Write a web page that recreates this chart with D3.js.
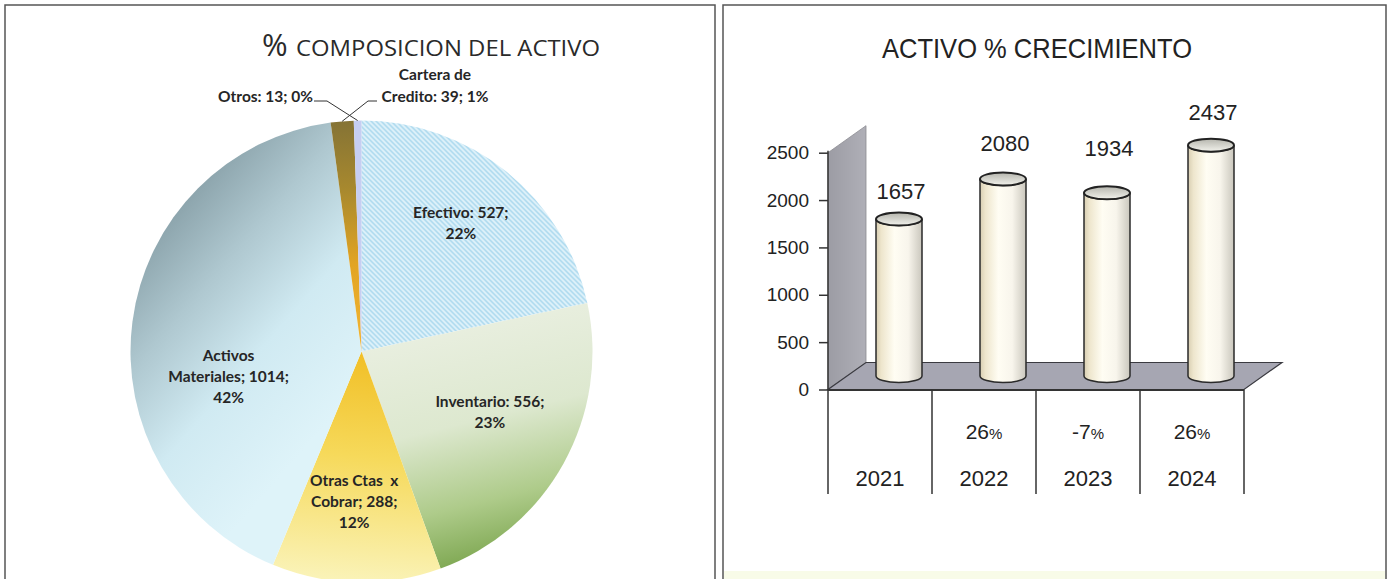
<!DOCTYPE html>
<html><head><meta charset="utf-8">
<script src="https://cdn.jsdelivr.net/npm/d3@7"></script>
<style>body{margin:0;background:#fff;} svg{display:block}</style>
</head><body>
<svg id="c" width="1390" height="579"></svg>
<script>
// ---------- DATA ----------
const pieCategories = ["Efectivo", "Inventario", "Otras Ctas  x Cobrar", "Activos Materiales", "Cartera de Credito", "Otros"];
const pieValues = [527, 556, 288, 1014, 39, 13];
const piePercents = ["22%", "23%", "12%", "42%", "1%", "0%"];

const years = ["2021", "2022", "2023", "2024"];
const activoValues = [1657, 2080, 1934, 2437];
const growthNumbers = ["", "26", "-7", "26"];
const yTickValues = [0, 500, 1000, 1500, 2000, 2500];

// ---------- LAYOUT ----------
const svg = d3.select("#c");
const defs = svg.append("defs");

// panels
svg.append("rect").attr("x", 5).attr("y", 5).attr("width", 710).attr("height", 590)
  .attr("fill", "#fff").attr("stroke", "#555").attr("stroke-width", 1.5);
svg.append("rect").attr("x", 723).attr("y", 5).attr("width", 663).attr("height", 590)
  .attr("fill", "#fff").attr("stroke", "#555").attr("stroke-width", 1.5);
svg.append("rect").attr("x", 724).attr("y", 571).attr("width", 661).attr("height", 8).attr("fill", "#f8fbe8");

// ================= PIE =================
const cx = 361.5, cy = 351.5, R = 231;

const pat = defs.append("pattern").attr("id", "hatch").attr("patternUnits", "userSpaceOnUse")
  .attr("width", 5).attr("height", 5);
pat.append("rect").attr("width", 5).attr("height", 5).attr("fill", "#e4f4fb");
pat.append("path").attr("d", "M-1,-1 L6,6 M-1,4 L1,6 M4,-1 L6,1")
  .attr("stroke", "#9ed3eb").attr("stroke-width", 1.4);

function linGrad(id, x1, y1, x2, y2, stops, ox = 0, oy = 0) {
  const g = defs.append("linearGradient").attr("id", id).attr("gradientUnits", "userSpaceOnUse")
    .attr("x1", x1 - ox).attr("y1", y1 - oy).attr("x2", x2 - ox).attr("y2", y2 - oy);
  stops.forEach(s => g.append("stop").attr("offset", s[0]).attr("stop-color", s[1]));
}
linGrad("gInv", 420, 330, 480, 575, [[0, "#e9efe0"], [0.4, "#dde8cf"], [0.72, "#aecb8a"], [1, "#74a046"]], cx, cy);
linGrad("gOtras", 355, 352, 335, 580, [[0, "#f1bf26"], [0.45, "#f6d95a"], [1, "#faf3b8"]], cx, cy);
linGrad("gAct", 135, 250, 330, 420, [[0, "#8aa2aa"], [0.3, "#afc8d0"], [0.62, "#d0eaf2"], [1, "#def3f9"]], cx, cy);
linGrad("gCart", 0, 121, 0, 352, [[0, "#857335"], [0.3, "#a8892e"], [0.62, "#e2a423"], [1, "#f2b633"]], cx, cy);

const sliceFills = ["url(#hatch)", "url(#gInv)", "url(#gOtras)", "url(#gAct)", "url(#gCart)", "#c6cef2"];

const pie = d3.pie().sort(null).value(d => d).startAngle(0).endAngle(2 * Math.PI);
const arcs = pie(pieValues);
const arc = d3.arc().innerRadius(0).outerRadius(R);

const pieG = svg.append("g").attr("transform", `translate(${cx},${cy})`);
pieG.selectAll("path").data(arcs).join("path")
  .attr("d", arc).attr("fill", (d, i) => sliceFills[i]);

// inside labels
const labelArc = d3.arc().innerRadius(R * 0.65).outerRadius(R * 0.65);
const labelLines = [
  [`${pieCategories[0]}: ${pieValues[0]};`, piePercents[0]],
  [`${pieCategories[1]}: ${pieValues[1]};`, piePercents[1]],
  ["Otras Ctas  x", `Cobrar; ${pieValues[2]};`, piePercents[2]],
  ["Activos", `Materiales; ${pieValues[3]};`, piePercents[3]],
  ["Cartera de", `Credito: ${pieValues[4]}; ${piePercents[4]}`],
  [`${pieCategories[5]}: ${pieValues[5]}; ${piePercents[5]}`]
];
const labelNudge = [[5, -11], [-3, -12], [-4, 0], [16, 45]];
const lineH = 21;
const lblFont = "Lato, 'Open Sans', sans-serif";
const lblSize = 15.5;
arcs.slice(0, 4).forEach((d, i) => {
  const c = labelArc.centroid(d);
  const x = cx + c[0] + labelNudge[i][0];
  const y = cy + c[1] + labelNudge[i][1];
  const lines = labelLines[i];
  const t = svg.append("text").attr("text-anchor", "middle")
    .attr("font-family", lblFont).attr("font-weight", "bold").attr("font-size", lblSize)
    .attr("fill", "#262626");
  lines.forEach((ln, k) => {
    t.append("tspan").attr("x", x).attr("y", y + (k - (lines.length - 1) / 2) * lineH + 5)
      .attr("xml:space", "preserve").text(ln);
  });
});

// outside labels with leader lines
const edgeArc = d3.arc().innerRadius(R).outerRadius(R);
const pCart = edgeArc.centroid(arcs[4]);
const pOtros = edgeArc.centroid(arcs[5]);
const lblY = 98;
svg.append("text").attr("x", 313).attr("y", lblY + 4).attr("text-anchor", "end")
  .attr("font-family", lblFont).attr("font-weight", "bold").attr("font-size", lblSize).attr("fill", "#262626")
  .text(labelLines[5][0]);
svg.append("path").attr("d", `M314,${lblY + 3} L327,${lblY + 3} L${cx + pOtros[0]},${cy + pOtros[1]}`)
  .attr("fill", "none").attr("stroke", "#333").attr("stroke-width", 1);
const tc = svg.append("text").attr("text-anchor", "middle")
  .attr("font-family", lblFont).attr("font-weight", "bold").attr("font-size", lblSize).attr("fill", "#262626");
tc.append("tspan").attr("x", 435).attr("y", lblY - 18).text(labelLines[4][0]);
tc.append("tspan").attr("x", 435).attr("y", lblY + 4).text(labelLines[4][1]);
svg.append("path").attr("d", `M377,${lblY + 3} L368,${lblY + 3} L${cx + pCart[0]},${cy + pCart[1]}`)
  .attr("fill", "none").attr("stroke", "#333").attr("stroke-width", 1);

// title
svg.append("text").attr("x", 262).attr("y", 56).attr("font-family", "'Open Sans', Lato, sans-serif")
  .attr("font-size", 31).attr("fill", "#2a2a2a").text("%");
svg.append("text").attr("x", 296).attr("y", 56).attr("font-family", "'Open Sans', Lato, sans-serif")
  .attr("font-size", 22).attr("fill", "#2a2a2a").attr("textLength", 304).attr("lengthAdjust", "spacingAndGlyphs")
  .text("COMPOSICION DEL  ACTIVO");

// ================= 3D CYLINDER BAR CHART =================
const x0 = 828, x1 = 1244;
const depthX = 38, depthY = -27;
const y = d3.scaleLinear().domain([0, 2500]).range([389.5, 152.7]);
const xb = d3.scaleBand().domain(years).range([x0, x1]);

linGrad("gWall", x0, 0, x0 + depthX, 0, [[0, "#9c9ca4"], [1, "#afafb7"]]);
svg.append("path")
  .attr("d", `M${x0},${y(2500)} L${x0 + depthX},${y(2500) + depthY} L${x0 + depthX},${y(0) + depthY} L${x0},${y(0)} Z`)
  .attr("fill", "url(#gWall)").attr("stroke", "#8a8a90").attr("stroke-width", 0.8);
svg.append("path")
  .attr("d", `M${x0},${y(0)} L${x1},${y(0)} L${x1 + depthX},${y(0) + depthY} L${x0 + depthX},${y(0) + depthY} Z`)
  .attr("fill", "#a6a6b2").attr("stroke", "#3a3a40").attr("stroke-width", 1.2);
svg.append("line").attr("x1", x0).attr("x2", x1).attr("y1", y(0) + 0.5).attr("y2", y(0) + 0.5)
  .attr("stroke", "#333").attr("stroke-width", 2);

const axisG = svg.append("g").attr("transform", `translate(${x0},0)`)
  .call(d3.axisLeft(y).tickValues(yTickValues).tickSize(9).tickPadding(10).tickFormat(d3.format("d")));
axisG.select(".domain").remove();
axisG.selectAll("line").attr("stroke", "#333").attr("stroke-width", 1.5);
axisG.selectAll("text").attr("font-family", "'Liberation Sans', Arial, sans-serif").attr("font-size", 19).attr("fill", "#222");
svg.append("line").attr("x1", x0).attr("x2", x0).attr("y1", y(2500) - 2).attr("y2", 494)
  .attr("stroke", "#333").attr("stroke-width", 1.5);

years.forEach((yr) => {
  const xx = xb(yr) + xb.bandwidth();
  svg.append("line").attr("x1", xx).attr("x2", xx).attr("y1", y(0)).attr("y2", 494)
    .attr("stroke", "#333").attr("stroke-width", 1.5);
});

const cylG = defs.append("linearGradient").attr("id", "gCyl").attr("x1", 0).attr("x2", 1).attr("y1", 0).attr("y2", 0);
[[0, "#d8ceb2"], [0.12, "#eee6cd"], [0.4, "#fffdf3"], [0.7, "#f8f5ec"], [1, "#cac7bd"]]
  .forEach(s => cylG.append("stop").attr("offset", s[0]).attr("stop-color", s[1]));
const topG = defs.append("linearGradient").attr("id", "gTop").attr("x1", 0).attr("x2", 0).attr("y1", 0).attr("y2", 1);
[[0, "#b5b5ad"], [1, "#f2f2ec"]].forEach(s => topG.append("stop").attr("offset", s[0]).attr("stop-color", s[1]));

const rx = 23, ry = 6.5;
const baseY = y(0) + depthY / 2;
const valueLabelDy = [-28, -36, -45, -33];
const bars = svg.append("g");
activoValues.forEach((v, i) => {
  const c = xb(years[i]) + xb.bandwidth() / 2 + depthX / 2;
  const top = baseY - (y(0) - y(v));
  bars.append("path")
    .attr("d", `M${c - rx},${top} L${c - rx},${baseY} A${rx},${ry} 0 0 0 ${c + rx},${baseY} L${c + rx},${top} A${rx},${ry} 0 0 1 ${c - rx},${top} Z`)
    .attr("fill", "url(#gCyl)").attr("stroke", "#2a2a2a").attr("stroke-width", 1.5);
  bars.append("ellipse").attr("cx", c).attr("cy", top).attr("rx", rx).attr("ry", ry)
    .attr("fill", "url(#gTop)").attr("stroke", "#222").attr("stroke-width", 2);
  bars.append("text").attr("x", c + 2).attr("y", top + valueLabelDy[i] + 8).attr("text-anchor", "middle")
    .attr("font-family", "'Liberation Sans', Arial, sans-serif").attr("font-size", 22).attr("fill", "#222")
    .text(v);
});

years.forEach((yr, i) => {
  const c = xb(yr) + xb.bandwidth() / 2;
  if (growthNumbers[i] !== "") {
    const t = svg.append("text").attr("x", c).attr("y", 439).attr("text-anchor", "middle")
      .attr("font-family", "'Liberation Sans', Arial, sans-serif").attr("fill", "#222");
    t.append("tspan").attr("font-size", 21).text(growthNumbers[i]);
    t.append("tspan").attr("font-size", 15).text("%");
  }
  svg.append("text").attr("x", c).attr("y", 486).attr("text-anchor", "middle")
    .attr("font-family", "'Liberation Sans', Arial, sans-serif").attr("font-size", 22).attr("fill", "#222")
    .text(yr);
});

svg.append("text").attr("x", 1037).attr("y", 58).attr("text-anchor", "middle")
  .attr("font-family", "'Liberation Sans', Arial, sans-serif").attr("font-size", 28).attr("fill", "#222")
  .attr("textLength", 310).attr("lengthAdjust", "spacingAndGlyphs")
  .text("ACTIVO % CRECIMIENTO");
</script>
</body></html>
